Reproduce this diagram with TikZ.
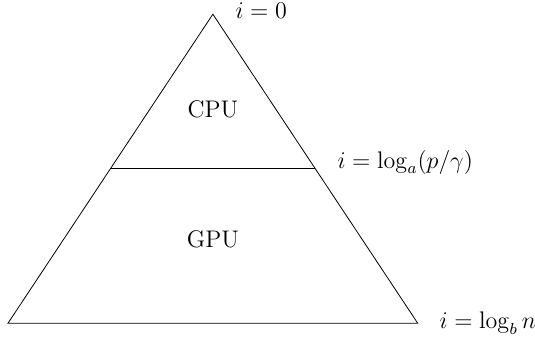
\documentclass[tikz,border=0pt]{standalone}
\usetikzlibrary{calc}
\begin{document}
\begin{tikzpicture}[every node/.style={font=\large}]
    \useasboundingbox (-0.14,-0.25) rectangle (9.26,5.68);
    \coordinate (top) at (3.6,5.43);
    \coordinate (bl) at (0,0);
    \coordinate (br) at (7.2,0);
    \coordinate (ml) at ($(bl)!0.5!(top)$);
    \coordinate (mr) at ($(br)!0.5!(top)$);
    
    \draw (bl) -- (top) -- (br) -- cycle;
    \draw (ml) -- (mr);
    
    \node (cpu) at (3.6,3.76) {CPU};
    \node (gpu) at (3.6,1.48) {GPU};
    
    \node (lvl0) at (4.45,5.5) {$i = 0$};
    \node (lvlmid) at (6.98,2.83) {$i = \log_a(p/\gamma)$};
    \node (lvlend) at (8.43,0) {$i = \log_b n$};
\end{tikzpicture}
\end{document}
